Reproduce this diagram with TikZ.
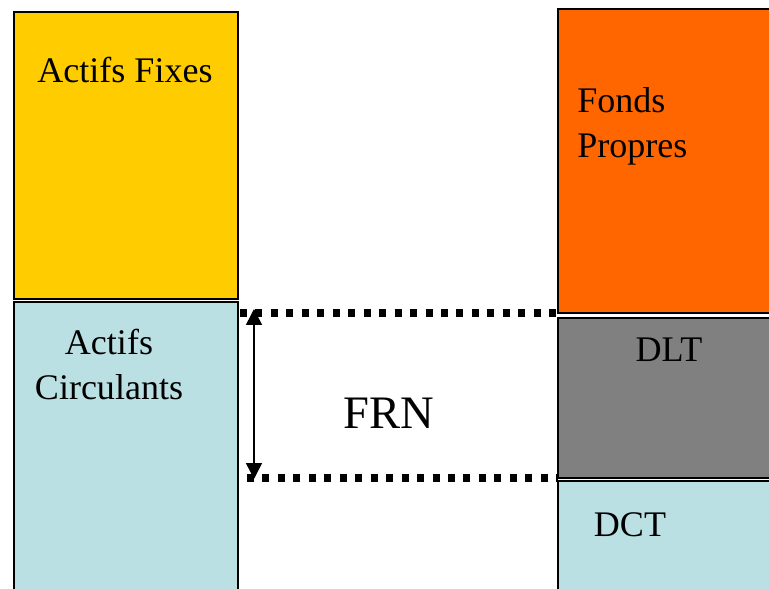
\documentclass[tikz,border=0pt]{standalone}
\usepackage{fontspec}
\setmainfont{Liberation Serif}
\usetikzlibrary{arrows.meta}
\definecolor{fixescol}{HTML}{FFCC00}
\definecolor{circcol}{HTML}{BBE0E3}
\definecolor{fondscol}{HTML}{FF6600}
\definecolor{dltcol}{HTML}{808080}

\begin{document}
\begin{tikzpicture}[x=0.02cm, y=-0.02cm, >={Triangle[length=9pt, width=9pt]},
	box/.style={draw=black, line width=1.1pt, inner sep=0pt, outer sep=0pt, anchor=north west},
	lbl/.style={font=\fontsize{20.5}{25.5}\selectfont, inner sep=0pt, anchor=base, align=center},
	frnline/.style={line width=4pt, dash pattern=on 4pt off 4.8pt}]
	\useasboundingbox (0,0) rectangle (769,589);
	% actif
	\node[box, fill=fixescol, minimum width=4.48cm, minimum height=5.74cm] (fixes) at (14,12) {};
	\node[box, fill=circcol, minimum width=4.48cm, minimum height=6.4cm] (circ) at (14,302) {};
	% passif
	\node[box, fill=fondscol, minimum width=4.84cm, minimum height=6.08cm] (fonds) at (558,9) {};
	\node[box, fill=dltcol, minimum width=4.84cm, minimum height=3.2cm] (dlt) at (558,318) {};
	\node[box, fill=circcol, minimum width=4.84cm, minimum height=2.78cm] (dct) at (558,481) {};
	% textes
	\node[lbl] (tfixes) at (125,82) {Actifs Fixes};
	\node[lbl] (tcirc) at (109,399) {Actifs\\Circulants};
	\node[lbl, align=left, anchor=base west] (tfonds) at (577,157) {Fonds\\Propres};
	\node[lbl] (tdlt) at (669,361) {DLT};
	\node[lbl] (tdct) at (630,536) {DCT};
	\node[lbl, font=\fontsize{26.5}{30}\selectfont] (tfrn) at (389,428) {FRN};
	% fonds de roulement
	\coordinate (frnhaut) at (240,313);
	\coordinate (frnbas) at (247,478);
	\draw[frnline] (frnhaut) -- (fonds.south west |- frnhaut);
	\draw[frnline] (frnbas) -- (dlt.south west |- frnbas);
	\coordinate (flhaut) at (254,309);
	\coordinate (flbas) at (254,479);
	\draw[<->, line width=0.85pt] (flhaut) -- (flbas);
\end{tikzpicture}
\end{document}
